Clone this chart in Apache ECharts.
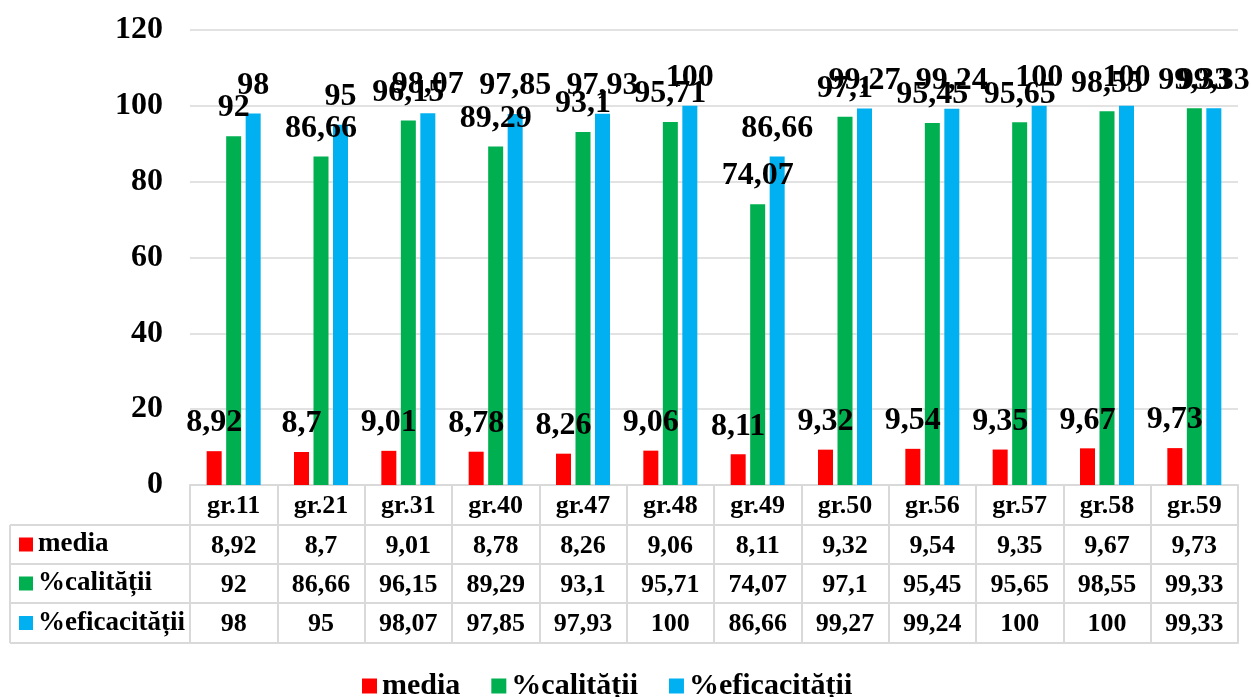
<!DOCTYPE html>
<html>
<head>
    <meta charset="utf-8">
    <title>media / calitate / eficacitate</title>
    <script src="https://cdn.jsdelivr.net/npm/echarts@6/dist/echarts.min.js"></script>
    <style>
        body { margin: 0; background: #fff; }
        #main { width: 1251px; height: 697px; }
    </style>
</head>
<body>
    <div id="main"></div>
    <script>
        var grupe = ['gr.11', 'gr.21', 'gr.31', 'gr.40', 'gr.47', 'gr.48', 'gr.49', 'gr.50', 'gr.56', 'gr.57', 'gr.58', 'gr.59'];
        var media = [8.92, 8.7, 9.01, 8.78, 8.26, 9.06, 8.11, 9.32, 9.54, 9.35, 9.67, 9.73];
        var calitatii = [92, 86.66, 96.15, 89.29, 93.1, 95.71, 74.07, 97.1, 95.45, 95.65, 98.55, 99.33];
        var eficacitatii = [98, 95, 98.07, 97.85, 97.93, 100, 86.66, 99.27, 99.24, 100, 100, 99.33];
        var numeSerii = ['media', '%calității', '%eficacității'];
        var culori = ['#FF0000', '#00B050', '#00B0F0'];

        var FONT = "'Liberation Serif', 'Times New Roman', serif";
        var BORDER = '#d9d9d9';

        // geometria tabelului de sub grafic
        var gridLeft = 190, gridRight = 13, gridTop = 30, axisY = 485;
        var rowOffsets = [0, 40, 79, 118, 158];   // liniile orizontale ale tabelului
        var tableLeft = 10;

        function virgula(v) { return String(v).replace('.', ','); }

        var myChart = echarts.init(document.getElementById('main'));

        // axele x suplimentare = randurile tabelului
        var tableRows = [grupe, media.map(virgula), calitatii.map(virgula), eficacitatii.map(virgula)];
        var xAxes = tableRows.map(function (row, i) {
            return {
                type: 'category',
                data: i === 0 ? row : row.map(function (v, k) { return grupe[k] + '|' + v; }),
                position: 'bottom',
                offset: rowOffsets[i],
                axisLine: { show: true, onZero: false, lineStyle: { color: BORDER, width: 2 } },
                axisTick: i === 0
                    ? { show: true, interval: 0, length: rowOffsets[4], lineStyle: { color: BORDER, width: 2 } }
                    : { show: false },
                axisLabel: {
                    interval: 0,
                    margin: 8,
                    color: '#000',
                    fontFamily: FONT,
                    fontWeight: 'bold',
                    fontSize: 26,
                    formatter: function (v) { return v.indexOf('|') >= 0 ? v.split('|')[1] : v; }
                }
            };
        });
        // linia de jos a tabelului
        xAxes.push({
            type: 'category',
            data: grupe,
            position: 'bottom',
            offset: rowOffsets[4],
            axisLine: { show: true, onZero: false, lineStyle: { color: BORDER, width: 2 } },
            axisTick: { show: false },
            axisLabel: { show: false }
        });

        // coloana din stanga a tabelului (legenda randurilor)
        var graphics = [];
        for (var r = 1; r <= 4; r++) {
            graphics.push({
                type: 'line',
                shape: { x1: tableLeft, y1: axisY + rowOffsets[r], x2: gridLeft, y2: axisY + rowOffsets[r] },
                style: { stroke: BORDER, lineWidth: 2 }
            });
        }
        graphics.push({
            type: 'line',
            shape: { x1: tableLeft, y1: axisY + rowOffsets[1], x2: tableLeft, y2: axisY + rowOffsets[4] },
            style: { stroke: BORDER, lineWidth: 2 }
        });
        numeSerii.forEach(function (nume, i) {
            var mid = axisY + (rowOffsets[i + 1] + rowOffsets[i + 2]) / 2;
            graphics.push({
                type: 'rect',
                shape: { x: 19, y: mid - 7, width: 14, height: 14 },
                style: { fill: culori[i] }
            });
            graphics.push({
                type: 'text',
                x: 38,
                y: mid,
                style: {
                    text: nume, fill: '#000', font: 'bold 27px ' + FONT,
                    verticalAlign: 'middle', align: 'left'
                }
            });
        });

        var valori = [media, calitatii, eficacitatii];
        var option = {
            animation: false,
            color: culori,
            grid: { left: gridLeft, right: gridRight, top: gridTop, bottom: 697 - axisY, containLabel: false },
            legend: {
                data: numeSerii,
                left: 357,
                top: 666,
                icon: 'rect',
                itemWidth: 15,
                itemHeight: 15,
                itemGap: 31,
                textStyle: { fontFamily: FONT, fontWeight: 'bold', fontSize: 30, color: '#000' }
            },
            xAxis: xAxes,
            yAxis: {
                type: 'value',
                min: 0,
                max: 120,
                interval: 20,
                axisLine: { show: false },
                axisTick: { show: false },
                axisLabel: { margin: 27, color: '#000', fontFamily: FONT, fontWeight: 'bold', fontSize: 32 },
                splitLine: { lineStyle: { color: BORDER, width: 1.5 } }
            },
            graphic: graphics,
            series: numeSerii.map(function (nume, i) {
                return {
                    name: nume,
                    type: 'bar',
                    xAxisIndex: 0,
                    barWidth: 15,
                    barGap: '30%',
                    data: valori[i],
                    label: {
                        show: true,
                        position: 'top',
                        distance: 12,
                        color: '#000',
                        fontFamily: FONT,
                        fontWeight: 'bold',
                        fontSize: 32,
                        formatter: function (p) { return virgula(p.value); }
                    }
                };
            })
        };

        myChart.setOption(option);
    </script>
</body>
</html>
